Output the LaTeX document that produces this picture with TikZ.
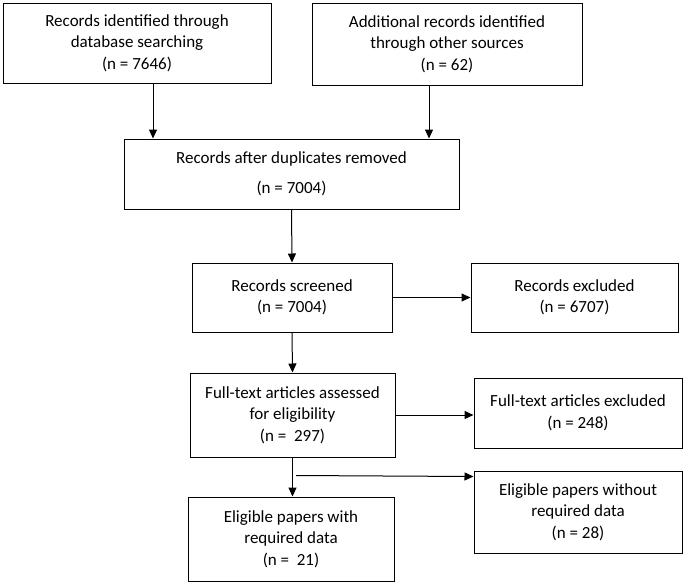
\documentclass[tikz,border=0pt]{standalone}
\usepackage{fontspec}
\setmainfont{Carlito}
\usepackage{tikz}
\usetikzlibrary{calc, arrows.meta}

\tikzset{
	box/.style={draw, line width=1pt, rectangle, align=center, inner sep=2pt, font=\fontsize{17}{21.5}\selectfont},
	flow/.style={line width=1pt, -{Triangle[length=9pt,width=8pt]}}
}

\begin{document}
\begin{tikzpicture}[x=1pt, y=-1pt]
		\useasboundingbox (0,0) rectangle (685,584);
		
		\node[box, minimum width=268pt, minimum height=80pt] (db) at (137,43){Records identified through\\database searching\\(n = 7646)};
		\node[box, minimum width=270pt, minimum height=82pt] (other) at (447,44){Additional records identified\\through other sources\\(n = 62)};
		\node[box, minimum width=335pt, minimum height=70pt] (dup) at (291.5,174){Records after duplicates removed\\[9pt](n = 7004)};
		\node[box, minimum width=200pt, minimum height=69pt] (screen) at (292,297.5){Records screened\\(n = 7004)};
		\node[box, minimum width=207pt, minimum height=69pt] (recex) at (574.5,297.5){Records excluded\\(n = 6707)};
		\node[box, minimum width=205pt, minimum height=84pt] (full) at (292.5,415){Full-text articles assessed\\for eligibility\\(n =\ \ 297)};
		\node[box, minimum width=208pt, minimum height=70pt] (fullex) at (578,413){Full-text articles excluded\\(n = 248)};
		\node[box, minimum width=206pt, minimum height=84pt] (with) at (291,539){Eligible papers with\\required data\\(n =\ \ 21)};
		\node[box, minimum width=208pt, minimum height=82pt] (without) at (578,512){Eligible papers without\\required data\\(n = 28)};
		
		\coordinate (dbout) at ($(db.south)+(16,0)$);
		\coordinate (otherout) at ($(other.south)+(-18,0)$);
		\coordinate (split) at ($(full.south)+(3.5,18)$);
		\coordinate (withoutin) at ($(without.north west)+(0,6)$);
		
		\draw[flow] (dbout) -- (dbout |- dup.north);
		\draw[flow] (otherout) -- (otherout |- dup.north);
		\draw[flow] (dup.south) -- (screen.north);
		\draw[flow] (screen.east) -- (recex.west);
		\draw[flow] (screen.south) -- (full.north);
		\draw[flow] (full.east) -- (full.east -| fullex.west);
		\draw[flow] (full.south) -- (full.south |- with.north);
		\draw[flow] (split) -- (withoutin);
	\end{tikzpicture}
\end{document}
